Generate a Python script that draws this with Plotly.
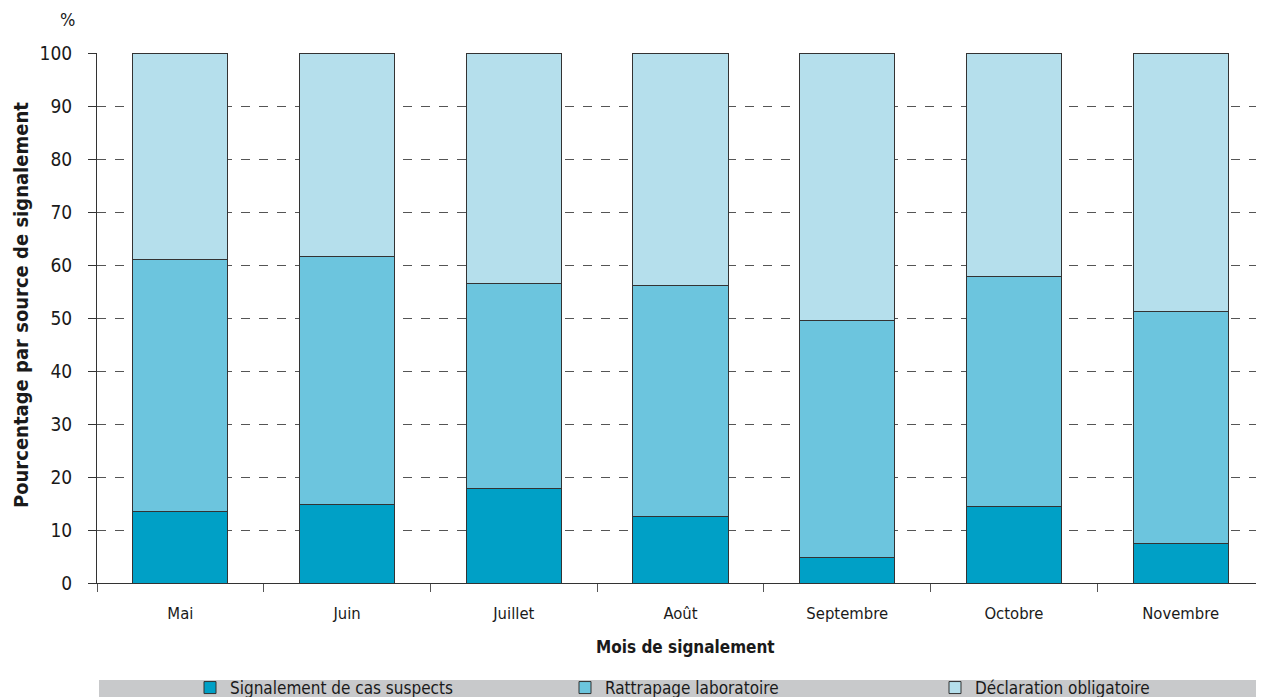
import plotly.graph_objects as go

months = ["Mai", "Juin", "Juillet", "Août", "Septembre", "Octobre", "Novembre"]
suspects = [13.6, 14.9, 17.9, 12.5, 4.9, 14.5, 7.4]
labo = [47.5, 46.8, 38.7, 43.7, 44.7, 43.4, 43.9]
declaration = [38.9, 38.3, 43.4, 43.8, 50.4, 42.1, 48.7]

series_names = ["Signalement de cas suspects", "Rattrapage laboratoire", "Déclaration obligatoire"]
colors = ["#00A0C6", "#6CC5DE", "#B5DFEC"]

FONT = "DejaVu Sans Condensed, Liberation Sans Narrow, Roboto, sans-serif"

# page body has an 8px margin: figure coordinates = screen coordinates - 8
OFF = 8
W, H = 1256, 689
L, T, B = 89, 45, 114
plot_h = H - T - B
plot_w = W - L


def py(screen_y):
    return (H - B - (screen_y - OFF)) / plot_h


def pxx(screen_x):
    return (screen_x - OFF - L) / plot_w


legend_keys = ["legend", "legend2", "legend3"]
legend_screen_x = [190, 565, 935]

fig = go.Figure()
for name, vals, col, lk in zip(series_names, [suspects, labo, declaration], colors, legend_keys):
    fig.add_trace(go.Bar(
        x=months, y=vals, name=name, legend=lk,
        marker=dict(color=col, line=dict(color="#333333", width=1)),
        width=0.57,
    ))

legend_common = dict(
    orientation="h", xanchor="left", yref="container", y=1 - (670 - OFF) / H, yanchor="top",
    bgcolor="rgba(0,0,0,0)", font=dict(size=17, family=FONT, color="#1a1a1a"),
)
layout_legends = {}
for lk, lx in zip(legend_keys, legend_screen_x):
    layout_legends[lk] = dict(legend_common, x=(lx - OFF) / W, xref="container")

fig.update_layout(
    barmode="stack",
    width=W, height=H,
    margin=dict(l=L, r=0, t=T, b=B, autoexpand=False),
    paper_bgcolor="white", plot_bgcolor="white",
    font=dict(family=FONT, size=17, color="#1a1a1a"),
    showlegend=True,
    xaxis=dict(
        range=[-0.5, 6.5], showline=True, linecolor="#333333", linewidth=1,
        ticks="outside", tickson="boundaries", ticklen=8, tickcolor="#555555",
        showgrid=False, tickfont=dict(size=16.5), ticklabelstandoff=15,
    ),
    yaxis=dict(
        range=[0, 100.15], tickvals=list(range(0, 101, 10)),
        showline=True, linecolor="#333333", linewidth=1,
        ticks="outside", ticklen=8, tickcolor="#333333",
        showgrid=True, gridcolor="#555555", griddash="dash", gridwidth=1,
        tickfont=dict(size=19), zeroline=False, ticklabelstandoff=12,
    ),
    shapes=[dict(type="rect", xref="paper", yref="paper",
                 x0=pxx(99), x1=1.01, y0=py(705), y1=py(680),
                 fillcolor="#C8C9CB", line=dict(width=0), layer="below")],
    annotations=[
        dict(text="%", xref="paper", yref="paper", x=pxx(67), y=py(20),
             xanchor="center", yanchor="middle", showarrow=False, font=dict(size=18)),
        dict(text="<b>Mois de signalement</b>", xref="paper", yref="paper",
             x=pxx(685), y=py(647), xanchor="center", yanchor="middle",
             showarrow=False, font=dict(size=17)),
        dict(text="<b>Pourcentage par source de signalement</b>", xref="paper", yref="paper",
             x=pxx(21), y=py(305), xanchor="center", yanchor="middle",
             textangle=-90, showarrow=False, font=dict(size=20)),
    ],
    **layout_legends,
)

fig.write_html("out.html")
